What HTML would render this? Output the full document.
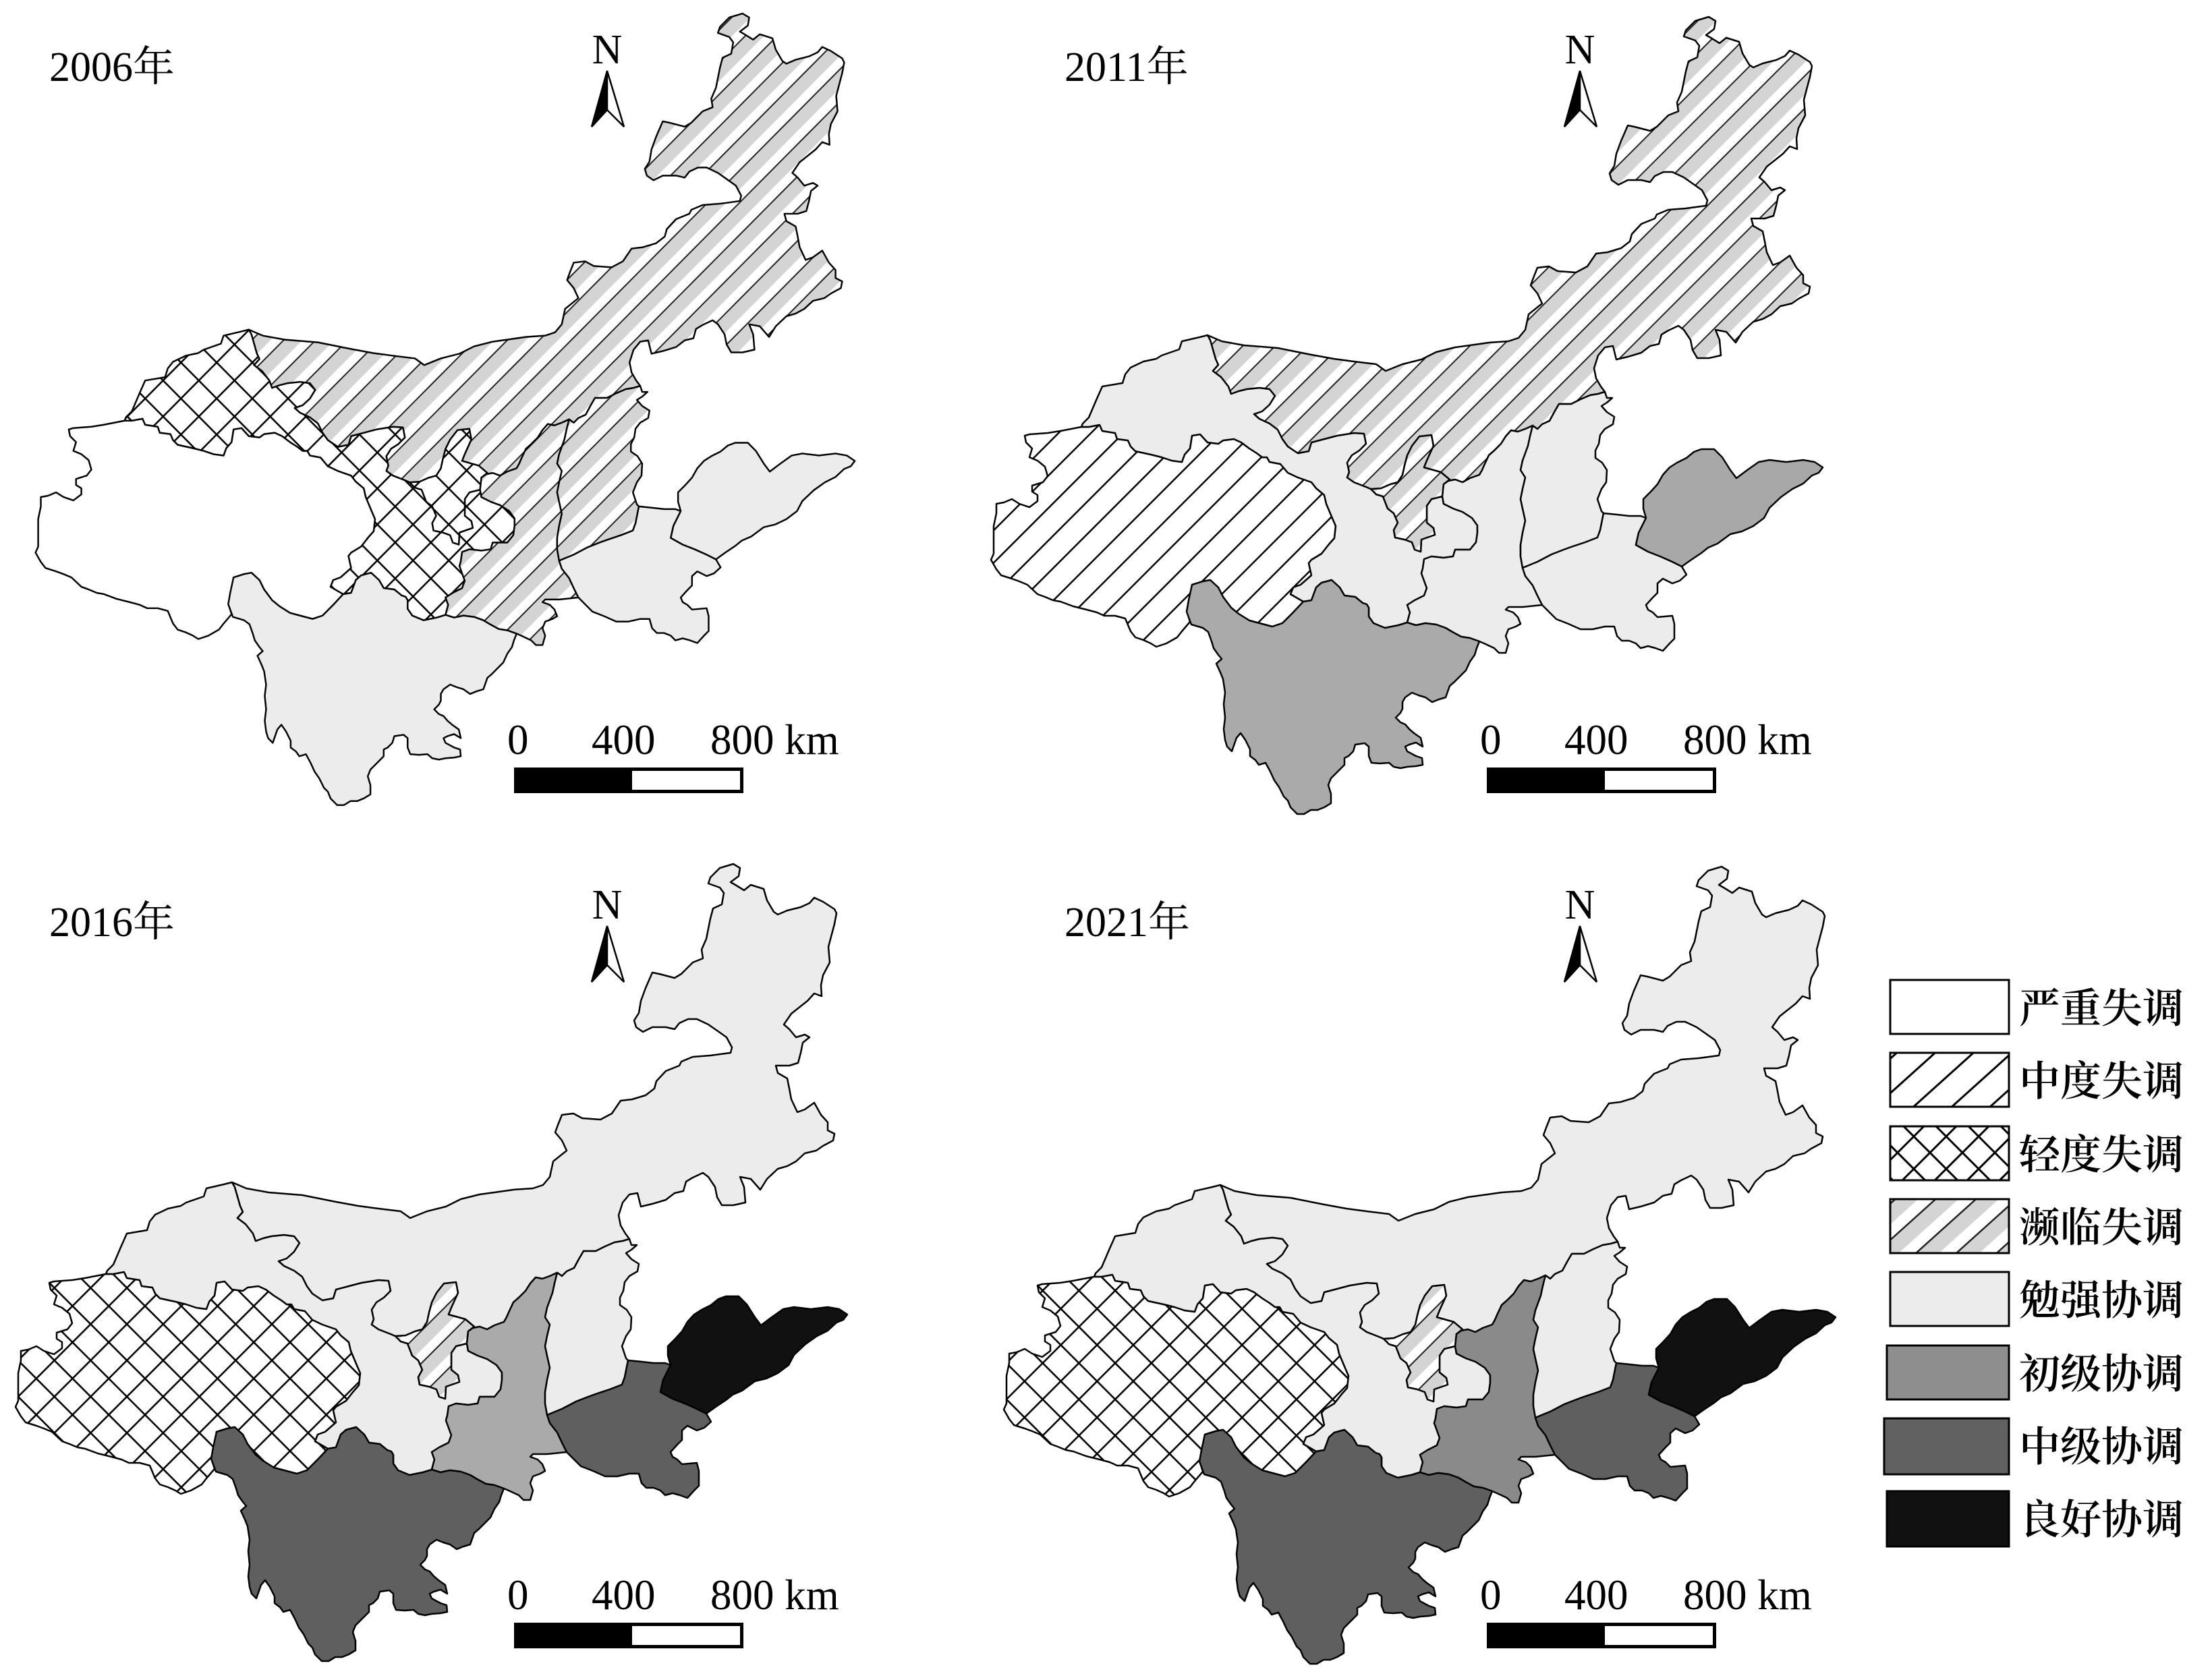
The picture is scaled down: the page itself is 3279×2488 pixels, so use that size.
<!DOCTYPE html>
<html><head><meta charset="utf-8">
<style>html,body{margin:0;padding:0;background:#fff}svg{display:block}</style>
</head><body>
<svg xmlns="http://www.w3.org/2000/svg" xmlns:xlink="http://www.w3.org/1999/xlink" width="3279" height="2488" viewBox="0 0 3279 2488">
<defs>
<pattern id="mid" width="34" height="34" patternUnits="userSpaceOnUse" patternTransform="rotate(-45)"><rect width="34" height="34" fill="#fff"/><rect width="34" height="2.5" fill="#000"/></pattern>
<pattern id="cross" width="38" height="38" patternUnits="userSpaceOnUse" patternTransform="rotate(45)"><rect width="38" height="38" fill="#fff"/><rect width="38" height="2.6" fill="#000"/><rect width="2.6" height="38" fill="#000"/></pattern>
<pattern id="near" width="34" height="34" patternUnits="userSpaceOnUse" patternTransform="rotate(-45)"><rect width="34" height="34" fill="#fff"/><rect y="2" width="34" height="19" fill="#d4d4d4"/><rect width="34" height="2" fill="#222"/></pattern>
<pattern id="midL" width="38" height="38" patternUnits="userSpaceOnUse" patternTransform="rotate(-42)"><rect width="38" height="38" fill="#fff"/><rect width="38" height="3" fill="#000"/></pattern>
<pattern id="crossL" width="34" height="34" patternUnits="userSpaceOnUse" patternTransform="rotate(45)"><rect width="34" height="34" fill="#fff"/><rect width="34" height="3" fill="#000"/><rect width="3" height="34" fill="#000"/></pattern>
<pattern id="nearL" width="40" height="40" patternUnits="userSpaceOnUse" patternTransform="rotate(-42)"><rect width="40" height="40" fill="#fff"/><rect y="2" width="40" height="22" fill="#d4d4d4"/><rect width="40" height="2.5" fill="#222"/></pattern>

<path id="QH" d="M73,1902 L80,1900 107,1898 126,1895 157,1889 168,1889 184,1886 188,1895 207,1898 210,1907 226,1909 230,1918 237,1925 260,1930 276,1934 291,1939 306,1941 310,1930 318,1921 321,1902 333,1900 344,1912 360,1914 367,1909 383,1907 394,1912 406,1921 417,1928 425,1934 432,1934 436,1941 452,1944 463,1957 478,1964 498,1971 505,1980 517,1990 520,2003 528,2022 534,2036 532,2054 524,2063 513,2077 498,2086 494,2091 498,2109 482,2123 471,2127 467,2137 486,2148 471,2164 455,2180 440,2185 421,2180 406,2176 390,2166 379,2157 367,2141 360,2127 348,2116 337,2118 321,2123 318,2146 314,2164 318,2178 306,2192 299,2201 283,2210 268,2215 260,2210 249,2205 237,2201 230,2192 222,2173 207,2169 191,2169 180,2164 165,2160 145,2155 126,2148 115,2146 103,2141 92,2137 77,2123 65,2118 54,2114 38,2109 31,2100 23,2086 27,2077 27,2054 27,2036 31,2017 31,2003 42,2001 54,1996 65,2003 80,2008 92,1999 92,1990 84,1985 84,1976 100,1971 107,1962 103,1948 92,1939 80,1934 84,1921 75,1912 Z"/>
<path id="SC" d="M321,2123 L337,2118 348,2116 360,2127 367,2141 379,2157 390,2166 406,2176 421,2180 440,2185 455,2180 471,2164 486,2148 498,2146 505,2127 513,2120 528,2116 540,2127 547,2139 563,2141 574,2150 580,2152 583,2157 583,2170 590,2180 607,2187 617,2185 627,2183 640,2179 653,2183 667,2180 683,2182 697,2187 707,2193 720,2200 733,2202 747,2207 743,2217 740,2227 733,2237 727,2250 717,2260 710,2267 703,2273 697,2290 687,2293 677,2297 667,2290 657,2287 647,2283 637,2290 633,2297 633,2307 630,2313 623,2320 630,2327 637,2330 643,2337 650,2343 660,2350 663,2363 653,2357 643,2360 637,2363 640,2370 653,2377 662,2380 663,2390 653,2392 640,2393 630,2395 620,2393 613,2387 600,2388 587,2387 583,2377 583,2363 577,2358 563,2360 560,2370 553,2377 547,2380 547,2390 540,2397 527,2410 523,2420 527,2433 527,2447 517,2453 507,2457 497,2457 487,2463 477,2463 467,2453 463,2443 457,2437 450,2423 443,2413 437,2400 430,2387 420,2390 415,2383 407,2377 407,2367 400,2353 393,2343 387,2350 380,2370 373,2363 370,2353 368,2337 370,2320 368,2300 370,2283 367,2263 363,2253 357,2240 365,2233 360,2227 353,2217 350,2207 345,2193 337,2187 320,2182 313,2163 316,2146 Z"/>
<path id="GS" d="M157,1889 L159,1884 168,1875 180,1847 188,1829 218,1824 222,1811 230,1801 249,1792 268,1788 276,1783 302,1774 306,1762 332,1756 344,1753 348,1760 356,1788 360,1797 352,1806 364,1815 375,1829 379,1840 390,1836 402,1833 421,1831 436,1833 444,1843 436,1856 425,1866 413,1870 421,1877 436,1884 448,1893 455,1907 463,1918 478,1928 494,1925 498,1912 517,1907 536,1902 561,1898 576,1899 579,1914 569,1924 558,1931 551,1942 554,1956 551,1964 561,1971 579,1978 586,1981 594,1989 604,1992 611,2010 620,2017 626,2031 620,2042 622,2053 636,2056 647,2060 651,2071 660,2074 661,2056 681,2049 679,2039 669,2031 669,2006 676,1996 692,1992 694,2003 708,2010 722,2015 736,2024 744,2035 744,2046 742,2060 733,2071 711,2071 708,2081 694,2083 676,2081 665,2085 663,2099 661,2106 665,2117 669,2128 665,2139 651,2146 640,2153 644,2164 640,2179 627,2183 617,2185 607,2187 590,2180 583,2170 583,2157 580,2152 574,2150 563,2141 547,2139 540,2127 528,2116 513,2120 505,2127 498,2146 486,2148 467,2137 471,2127 482,2123 498,2109 494,2091 498,2086 513,2077 524,2063 532,2054 534,2036 528,2022 520,2003 517,1990 505,1980 498,1971 478,1964 463,1957 452,1944 436,1941 432,1934 425,1934 417,1928 406,1921 394,1912 383,1907 367,1909 360,1914 344,1912 333,1900 321,1902 318,1921 310,1930 306,1941 291,1939 276,1934 260,1930 237,1925 230,1918 226,1909 210,1907 207,1898 188,1895 184,1886 168,1889 Z"/>
<path id="NX" d="M658,1903 L676,1901 679,1917 669,1939 665,1949 690,1956 703,1967 694,1974 692,1992 676,1996 669,2006 669,2031 679,2039 681,2049 661,2056 660,2074 651,2071 647,2060 636,2056 622,2053 620,2042 626,2031 620,2017 611,2010 604,1992 594,1989 586,1981 601,1980 615,1974 626,1971 633,1960 636,1946 640,1931 647,1917 Z"/>
<path id="SHX" d="M694,1974 L701,1969 711,1967 722,1971 733,1965 747,1960 751,1953 754,1946 761,1931 769,1924 779,1914 786,1903 794,1894 804,1896 815,1892 826,1887 822,1903 819,1917 811,1939 808,1953 815,1964 811,1981 808,1996 811,2010 815,2028 811,2046 808,2064 808,2081 811,2098 815,2110 826,2124 833,2139 840,2153 811,2156 790,2156 786,2160 797,2164 804,2171 808,2181 801,2185 790,2189 786,2199 790,2210 786,2224 776,2224 769,2217 754,2210 747,2207 733,2202 720,2200 707,2193 697,2187 683,2182 667,2180 653,2183 640,2179 644,2164 640,2153 651,2146 665,2139 669,2128 665,2117 661,2106 663,2099 665,2085 676,2081 694,2083 708,2081 711,2071 733,2071 742,2060 744,2046 744,2035 736,2024 722,2015 708,2010 694,2003 692,1992 Z"/>
<path id="SXI" d="M826,1887 L833,1892 840,1885 851,1880 858,1867 865,1855 883,1855 897,1848 911,1842 923,1840 933,1837 936,1846 944,1846 936,1853 928,1858 936,1867 947,1874 945,1885 933,1892 926,1901 924,1914 919,1924 919,1935 929,1942 936,1953 935,1971 928,1981 922,1996 928,2014 931,2017 926,2042 922,2053 904,2060 883,2067 872,2071 854,2078 833,2089 811,2098 808,2081 808,2064 811,2046 815,2028 811,2010 808,1996 811,1981 815,1964 808,1953 811,1939 819,1917 822,1903 Z"/>
<path id="HEN" d="M931,2017 L951,2019 969,2021 986,2021 994,2024 983,2046 979,2064 997,2074 1015,2081 1033,2089 1047,2096 1054,2108 1044,2117 1033,2121 1019,2114 1011,2121 1011,2135 1004,2142 994,2153 997,2160 1004,2164 1011,2171 1033,2169 1036,2181 1036,2203 1029,2210 1019,2221 1008,2217 997,2214 986,2217 979,2210 969,2206 958,2206 951,2199 947,2185 933,2185 915,2189 897,2189 879,2181 861,2174 847,2160 840,2153 833,2139 826,2124 815,2110 811,2098 833,2089 854,2078 872,2071 883,2067 904,2060 922,2053 926,2042 Z"/>
<path id="SD" d="M994,2024 L990,2010 990,1996 1001,1985 1011,1974 1019,1960 1029,1949 1040,1942 1054,1935 1065,1926 1076,1922 1095,1922 1107,1934 1119,1953 1128,1965 1144,1953 1161,1941 1177,1938 1202,1941 1227,1938 1244,1941 1256,1949 1250,1957 1240,1961 1227,1973 1211,1981 1194,1993 1177,2009 1169,2024 1153,2036 1136,2044 1119,2048 1100,2062 1086,2068 1076,2076 1061,2086 1047,2096 1033,2089 1015,2081 997,2074 979,2064 983,2046 Z"/>
<path id="IM" d="M344,1753 L365,1762 398,1768 448,1772 498,1782 531,1788 561,1792 594,1796 608,1806 633,1796 661,1789 683,1778 711,1771 740,1767 761,1764 790,1762 805,1757 815,1745 820,1722 840,1706 833,1691 823,1679 827,1668 833,1653 850,1651 863,1658 890,1660 907,1651 920,1632 937,1630 957,1624 970,1614 973,1603 987,1588 1007,1580 1010,1574 1027,1567 1053,1565 1083,1561 1085,1553 1077,1538 1060,1526 1050,1519 1033,1511 1020,1511 1007,1517 1000,1526 987,1523 967,1523 953,1530 943,1523 940,1513 947,1502 950,1484 957,1465 967,1442 977,1444 1000,1450 1010,1444 1027,1427 1042,1421 1040,1408 1047,1392 1053,1362 1057,1347 1070,1341 1073,1324 1067,1316 1050,1310 1053,1301 1067,1287 1087,1281 1097,1287 1095,1299 1083,1308 1090,1312 1103,1320 1113,1312 1132,1318 1137,1335 1147,1352 1153,1356 1167,1350 1187,1345 1200,1339 1207,1331 1220,1337 1237,1348 1240,1354 1237,1370 1233,1385 1228,1404 1230,1427 1220,1446 1217,1461 1218,1477 1207,1473 1197,1484 1173,1503 1162,1519 1170,1526 1180,1538 1193,1534 1200,1538 1190,1546 1187,1561 1183,1576 1170,1580 1150,1580 1153,1591 1167,1599 1170,1614 1173,1630 1182,1649 1193,1645 1207,1635 1217,1653 1227,1664 1227,1676 1237,1681 1235,1691 1220,1699 1210,1706 1193,1710 1180,1722 1167,1729 1153,1733 1137,1748 1127,1764 1113,1748 1097,1745 1103,1760 1105,1783 1087,1787 1070,1787 1063,1775 1060,1760 1050,1745 1042,1739 1027,1746 1017,1752 1013,1766 1000,1769 987,1779 967,1785 950,1789 945,1769 933,1771 923,1783 917,1802 920,1817 927,1829 933,1837 923,1840 911,1842 897,1848 883,1855 865,1855 858,1867 851,1880 840,1885 833,1892 826,1887 815,1892 804,1896 794,1894 786,1903 779,1914 769,1924 761,1931 754,1946 751,1953 747,1960 733,1965 722,1971 711,1967 701,1969 694,1974 703,1967 690,1956 665,1949 669,1939 679,1917 676,1901 658,1903 647,1917 640,1931 636,1946 633,1960 626,1971 615,1974 601,1980 586,1981 579,1978 561,1971 551,1964 554,1956 551,1942 558,1931 569,1924 579,1914 576,1899 561,1898 536,1902 517,1907 498,1912 494,1925 478,1928 463,1918 455,1907 448,1893 436,1884 421,1877 413,1870 425,1866 436,1856 444,1843 436,1833 421,1831 402,1833 390,1836 379,1840 375,1829 364,1815 352,1806 360,1797 356,1788 348,1760 Z"/>
</defs>

<rect width="3279" height="2488" fill="#fff"/>

<!-- Maps -->
<g stroke="#000" stroke-width="2.5" stroke-linejoin="round">
  <!-- 2006 -->
  <g transform="matrix(0.985,0,0,0.993,30,-1252)">
    <use xlink:href="#QH" href="#QH" fill="#fff"/>
    <use xlink:href="#GS" href="#GS" fill="url(#cross)"/>
    <use xlink:href="#NX" href="#NX" fill="url(#cross)"/>
    <use xlink:href="#IM" href="#IM" fill="url(#near)"/>
    <use xlink:href="#SHX" href="#SHX" fill="url(#near)"/>
    <use xlink:href="#SXI" href="#SXI" fill="url(#near)"/>
    <use xlink:href="#HEN" href="#HEN" fill="#ececec"/>
    <use xlink:href="#SD" href="#SD" fill="#ececec"/>
    <use xlink:href="#SC" href="#SC" fill="#ececec"/>
  </g>
  <!-- 2011 -->
  <g transform="translate(1446,-1256)">
    <use xlink:href="#QH" href="#QH" fill="url(#mid)"/>
    <use xlink:href="#GS" href="#GS" fill="#ececec"/>
    <use xlink:href="#NX" href="#NX" fill="url(#near)"/>
    <use xlink:href="#IM" href="#IM" fill="url(#near)"/>
    <use xlink:href="#SHX" href="#SHX" fill="#ececec"/>
    <use xlink:href="#SXI" href="#SXI" fill="#ececec"/>
    <use xlink:href="#HEN" href="#HEN" fill="#ececec"/>
    <use xlink:href="#SD" href="#SD" fill="#a8a8a8"/>
    <use xlink:href="#SC" href="#SC" fill="#aaaaaa"/>
  </g>
  <!-- 2016 -->
  <g>
    <use xlink:href="#QH" href="#QH" fill="url(#cross)"/>
    <use xlink:href="#GS" href="#GS" fill="#ececec"/>
    <use xlink:href="#NX" href="#NX" fill="url(#near)"/>
    <use xlink:href="#IM" href="#IM" fill="#ececec"/>
    <use xlink:href="#SHX" href="#SHX" fill="#aaaaaa"/>
    <use xlink:href="#SXI" href="#SXI" fill="#ececec"/>
    <use xlink:href="#HEN" href="#HEN" fill="#5f5f5f"/>
    <use xlink:href="#SD" href="#SD" fill="#111111"/>
    <use xlink:href="#SC" href="#SC" fill="#5f5f5f"/>
  </g>
  <!-- 2021 -->
  <g transform="translate(1465,4)">
    <use xlink:href="#QH" href="#QH" fill="url(#cross)"/>
    <use xlink:href="#GS" href="#GS" fill="#ececec"/>
    <use xlink:href="#NX" href="#NX" fill="url(#near)"/>
    <use xlink:href="#IM" href="#IM" fill="#ececec"/>
    <use xlink:href="#SHX" href="#SHX" fill="#8a8a8a"/>
    <use xlink:href="#SXI" href="#SXI" fill="#ececec"/>
    <use xlink:href="#HEN" href="#HEN" fill="#5f5f5f"/>
    <use xlink:href="#SD" href="#SD" fill="#111111"/>
    <use xlink:href="#SC" href="#SC" fill="#5f5f5f"/>
  </g>
</g>

<!-- Year labels -->
<g font-family="'Liberation Serif','Noto Serif CJK SC',serif" font-size="62" fill="#000">
  <text x="73" y="120">2006年</text>
  <text x="1578" y="120">2011年</text>
  <text x="73" y="1388">2016年</text>
  <text x="1578" y="1388">2021年</text>
</g>

<!-- North arrows -->
<g font-family="'Liberation Serif',serif" font-size="62" fill="#000" text-anchor="middle">
  <text x="900" y="94">N</text>
  <text x="2342" y="94">N</text>
  <text x="900" y="1362">N</text>
  <text x="2342" y="1362">N</text>
</g>
<g stroke="#000" stroke-width="2.5" stroke-linejoin="miter">
  <polygon points="900,105 877,188 900,163" fill="#000"/>
  <polygon points="900,105 925,188 900,163" fill="#fff"/>
  <polygon points="2342,105 2319,188 2342,163" fill="#000"/>
  <polygon points="2342,105 2367,188 2342,163" fill="#fff"/>
  <polygon points="900,1373 877,1456 900,1431" fill="#000"/>
  <polygon points="900,1373 925,1456 900,1431" fill="#fff"/>
  <polygon points="2342,1373 2319,1456 2342,1431" fill="#000"/>
  <polygon points="2342,1373 2367,1456 2342,1431" fill="#fff"/>
</g>

<!-- Scale bars -->
<g font-family="'Liberation Serif',serif" font-size="63" fill="#000">
  <text x="752" y="1118">0</text><text x="877" y="1118">400</text><text x="1053" y="1118">800 km</text>
  <text x="2194" y="1118">0</text><text x="2319" y="1118">400</text><text x="2495" y="1118">800 km</text>
  <text x="752" y="2386">0</text><text x="877" y="2386">400</text><text x="1053" y="2386">800 km</text>
  <text x="2194" y="2386">0</text><text x="2319" y="2386">400</text><text x="2495" y="2386">800 km</text>
</g>
<g>
  <rect x="762" y="1138" width="172" height="38" fill="#000"/>
  <rect x="934.5" y="1140.5" width="165" height="33" fill="#fff" stroke="#000" stroke-width="5"/>
  <rect x="2204" y="1138" width="172" height="38" fill="#000"/>
  <rect x="2376.5" y="1140.5" width="165" height="33" fill="#fff" stroke="#000" stroke-width="5"/>
  <rect x="762" y="2406" width="172" height="38" fill="#000"/>
  <rect x="934.5" y="2408.5" width="165" height="33" fill="#fff" stroke="#000" stroke-width="5"/>
  <rect x="2204" y="2406" width="172" height="38" fill="#000"/>
  <rect x="2376.5" y="2408.5" width="165" height="33" fill="#fff" stroke="#000" stroke-width="5"/>
</g>

<!-- Legend -->
<g stroke="#000" stroke-width="3">
  <rect x="2802" y="1453" width="176" height="80" fill="#fff"/>
  <rect x="2802" y="1561" width="176" height="80" fill="url(#midL)"/>
  <rect x="2802" y="1670" width="176" height="80" fill="url(#crossL)"/>
  <rect x="2802" y="1778" width="176" height="80" fill="url(#nearL)"/>
  <rect x="2802" y="1886" width="176" height="80" fill="#ececec"/>
  <rect x="2797" y="1995" width="181" height="80" fill="#8e8e8e"/>
  <rect x="2793" y="2103" width="185" height="83" fill="#616161"/>
  <rect x="2797" y="2211" width="181" height="82" fill="#111111"/>
</g>
<g font-family="'Liberation Serif','Noto Serif CJK SC',serif" font-size="61" font-weight="600" fill="#000">
  <text x="2993" y="1516">严重失调</text>
  <text x="2993" y="1624">中度失调</text>
  <text x="2993" y="1733">轻度失调</text>
  <text x="2993" y="1841">濒临失调</text>
  <text x="2993" y="1949">勉强协调</text>
  <text x="2993" y="2058">初级协调</text>
  <text x="2993" y="2166">中级协调</text>
  <text x="2993" y="2274">良好协调</text>
</g>
</svg>
</body></html>
